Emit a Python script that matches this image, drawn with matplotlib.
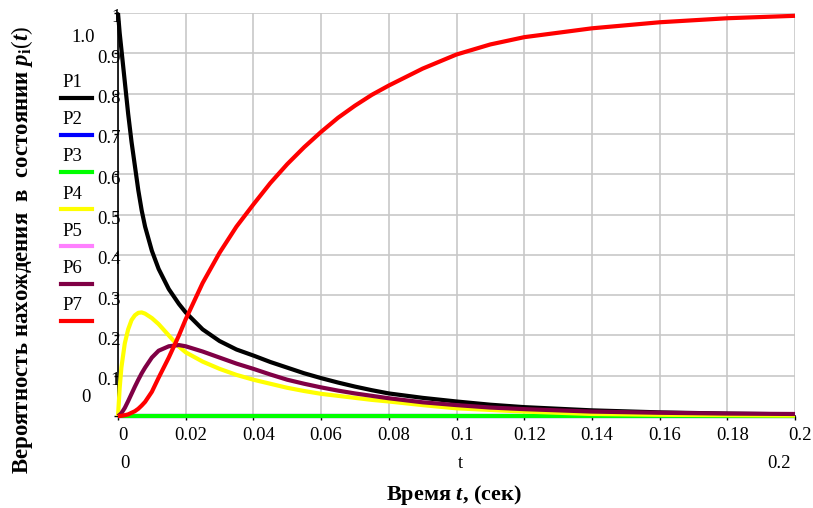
import matplotlib
matplotlib.use("Agg")
import matplotlib.pyplot as plt
from matplotlib.lines import Line2D
import matplotlib.transforms as mtransforms

plt.rcParams['font.family'] = ['Liberation Serif', 'DejaVu Serif']
plt.rcParams['mathtext.fontset'] = 'custom'
plt.rcParams['mathtext.rm'] = 'Liberation Serif'
plt.rcParams['mathtext.it'] = 'Liberation Serif:italic'
plt.rcParams['mathtext.bf'] = 'Liberation Serif:bold'
plt.rcParams['mathtext.bfit'] = 'Liberation Serif:bold:italic'

# ---- data ----
t = [0, 0.0005, 0.001, 0.002, 0.003, 0.004, 0.005, 0.006, 0.007, 0.008, 0.01, 0.012,
     0.015, 0.018, 0.02, 0.025, 0.03, 0.035, 0.04, 0.045, 0.05, 0.055, 0.06, 0.065,
     0.07, 0.075, 0.08, 0.09, 0.1, 0.11, 0.12, 0.14, 0.16, 0.18, 0.2]

P1 = [1.0, 0.95, 0.91, 0.83, 0.75, 0.68, 0.62, 0.56, 0.51, 0.47, 0.41, 0.365,
      0.315, 0.278, 0.257, 0.215, 0.186, 0.165, 0.15, 0.134, 0.12, 0.106, 0.094, 0.083,
      0.073, 0.064, 0.056, 0.045, 0.036, 0.028, 0.022, 0.014, 0.009, 0.006, 0.004]
P2 = [0.0] * len(t)
P3 = [0.0] * len(t)
P4 = [0.0, 0.07, 0.12, 0.18, 0.215, 0.238, 0.25, 0.256, 0.257, 0.254, 0.243, 0.228,
      0.2, 0.172, 0.158, 0.135, 0.117, 0.102, 0.09, 0.08, 0.07, 0.062, 0.055, 0.05,
      0.045, 0.04, 0.036, 0.027, 0.019, 0.015, 0.011, 0.005, 0.003, 0.002, 0.001]
P5 = [0.0] * len(t)
P6 = [0.0, 0.003, 0.007, 0.02, 0.037, 0.055, 0.073, 0.09, 0.106, 0.12, 0.145, 0.162,
      0.173, 0.176, 0.173, 0.16, 0.145, 0.13, 0.117, 0.103, 0.09, 0.08, 0.071, 0.063,
      0.056, 0.05, 0.044, 0.034, 0.027, 0.021, 0.017, 0.011, 0.008, 0.006, 0.005]
P7 = [0.0, 0.0, 0.0005, 0.002, 0.004, 0.008, 0.012, 0.018, 0.026, 0.035, 0.06, 0.095,
      0.145, 0.2, 0.24, 0.33, 0.405, 0.47, 0.525, 0.578, 0.625, 0.667, 0.705, 0.74,
      0.77, 0.797, 0.82, 0.862, 0.897, 0.922, 0.94, 0.962, 0.977, 0.987, 0.993]

names = ['P1', 'P2', 'P3', 'P4', 'P5', 'P6', 'P7']
series = [P1, P2, P3, P4, P5, P6, P7]
colors = ['#000000', '#0000ff', '#00ff00', '#ffff00', '#ff80ff', '#800045', '#ff0000']
zorders = [3, 2.5, 2.8, 3, 2.6, 3.1, 3.2]

xticks = [0, 0.02, 0.04, 0.06, 0.08, 0.1, 0.12, 0.14, 0.16, 0.18, 0.2]
xticklabels = ['0', '0.02', '0.04', '0.06', '0.08', '0.1', '0.12', '0.14', '0.16', '0.18', '0.2']
yticks = [0, 0.1, 0.2, 0.3, 0.4, 0.5, 0.6, 0.7, 0.8, 0.9, 1.0]
yticklabels = ['', '0.1', '0.2', '0.3', '0.4', '0.5', '0.6', '0.7', '0.8', '0.9', '1']

W, H = 813, 508
fig = plt.figure(figsize=(W / 100, H / 100), dpi=100)
L, R, B, T = 118, 795, 416, 13
ax = fig.add_axes([L / W, 1 - B / H, (R - L) / W, (B - T) / H])

for name, s, c, z in zip(names, series, colors, zorders):
    ax.plot(t, s, color=c, lw=3.0, zorder=z, solid_capstyle='butt', clip_on=False)

FS = 13.5
ax.set_xlim(0, 0.2)
ax.set_ylim(0, 1)
ax.set_xticks(xticks)
ax.set_xticklabels(xticklabels)
ax.set_yticks(yticks)
ax.set_yticklabels(yticklabels)
ax.grid(True, color='#c8c8c8', lw=1.2, zorder=0)
ax.set_axisbelow(True)
for sp in ['top', 'right']:
    ax.spines[sp].set_visible(False)
ax.spines['left'].set_linewidth(1.2)
ax.spines['bottom'].set_linewidth(1.2)
ax.tick_params(axis='y', length=3, width=1, pad=-5, labelsize=FS, direction='out')
ax.tick_params(axis='x', length=3, width=1, pad=5, labelsize=FS, direction='out')
offset = mtransforms.ScaledTranslation(5 / 100, 0, fig.dpi_scale_trans)
for lab in ax.get_xticklabels():
    lab.set_transform(lab.get_transform() + offset)
yoff = mtransforms.ScaledTranslation(0, -3 / 100, fig.dpi_scale_trans)
for lab in ax.get_yticklabels():
    lab.set_transform(lab.get_transform() + yoff)

def fx(px):
    return px / W

def fy(py):
    return 1 - py / H

fig.text(fx(83), fy(38), '1.0', fontsize=FS, ha='center', va='center')
fig.text(fx(86), fy(397), '0', fontsize=FS, ha='center', va='center')
fig.text(fx(125), fy(463), '0', fontsize=FS, ha='center', va='center')
fig.text(fx(460), fy(463), 't', fontsize=FS, ha='center', va='center')
fig.text(fx(779), fy(463), '0.2', fontsize=FS, ha='center', va='center')

for i, (name, c) in enumerate(zip(names, colors)):
    ly = 97.5 + i * 37.2
    fig.add_artist(Line2D([fx(61), fx(92)], [fy(ly), fy(ly)], color=c, lw=3.0))
    fig.text(fx(62), fy(ly - 15), name, fontsize=FS, ha='left', va='center')

fig.text(fx(454), fy(495), r'Время $\mathbfit{t}$, (сек)', fontsize=16,
         fontweight='bold', ha='center', va='center')
fig.text(fx(22), fy(250),
         r'Вероятность нахождения  в  состоянии $\mathbfit{p}_{\mathbf{i}}(\mathbfit{t})$',
         fontsize=16.5, fontweight='bold', rotation=90, ha='center', va='center')

fig.savefig('out.png', dpi=100)
